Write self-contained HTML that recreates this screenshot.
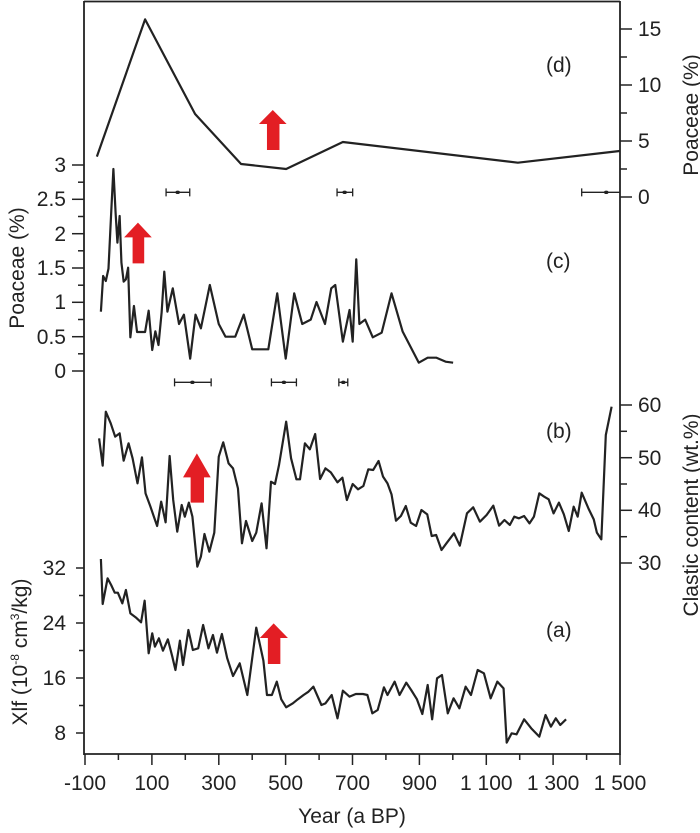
<!DOCTYPE html>
<html><head><meta charset="utf-8"><style>
body{margin:0;background:#fff}
text{font-family:"Liberation Sans",sans-serif;fill:#222}
</style></head><body>
<svg width="700" height="828" viewBox="0 0 700 828" xmlns="http://www.w3.org/2000/svg">
<rect x="0" y="0" width="700" height="828" fill="#fff"/>
<g stroke="#222" stroke-width="1.8" fill="none">
<line x1="84" y1="1.5" x2="620" y2="1.5"/>
<line x1="84" y1="1" x2="84" y2="755"/>
<line x1="620" y1="1" x2="620" y2="755"/>
<line x1="84" y1="754" x2="620" y2="754"/>
</g>
<g stroke="#222" stroke-width="1.5">
<line x1="85" y1="754" x2="85" y2="765"/><line x1="151.9" y1="754" x2="151.9" y2="765"/><line x1="218.8" y1="754" x2="218.8" y2="765"/><line x1="285.6" y1="754" x2="285.6" y2="765"/><line x1="352.5" y1="754" x2="352.5" y2="765"/><line x1="419.4" y1="754" x2="419.4" y2="765"/><line x1="486.3" y1="754" x2="486.3" y2="765"/><line x1="553.1" y1="754" x2="553.1" y2="765"/><line x1="620" y1="754" x2="620" y2="765"/>
<line x1="118.4" y1="754" x2="118.4" y2="760"/><line x1="185.3" y1="754" x2="185.3" y2="760"/><line x1="252.2" y1="754" x2="252.2" y2="760"/><line x1="319.1" y1="754" x2="319.1" y2="760"/><line x1="385.9" y1="754" x2="385.9" y2="760"/><line x1="452.8" y1="754" x2="452.8" y2="760"/><line x1="519.7" y1="754" x2="519.7" y2="760"/><line x1="586.6" y1="754" x2="586.6" y2="760"/>
<line x1="72" y1="165" x2="84" y2="165"/><line x1="72" y1="199.3" x2="84" y2="199.3"/><line x1="72" y1="233.7" x2="84" y2="233.7"/><line x1="72" y1="268" x2="84" y2="268"/><line x1="72" y1="302.3" x2="84" y2="302.3"/><line x1="72" y1="336.7" x2="84" y2="336.7"/><line x1="72" y1="371" x2="84" y2="371"/>
<line x1="78" y1="182.2" x2="84" y2="182.2"/><line x1="78" y1="216.5" x2="84" y2="216.5"/><line x1="78" y1="250.8" x2="84" y2="250.8"/><line x1="78" y1="285.2" x2="84" y2="285.2"/><line x1="78" y1="319.5" x2="84" y2="319.5"/><line x1="78" y1="353.8" x2="84" y2="353.8"/>
<line x1="76" y1="568" x2="84" y2="568"/><line x1="76" y1="623" x2="84" y2="623"/><line x1="76" y1="678" x2="84" y2="678"/><line x1="76" y1="733" x2="84" y2="733"/>
<line x1="79" y1="595.5" x2="84" y2="595.5"/><line x1="79" y1="650.5" x2="84" y2="650.5"/><line x1="79" y1="705.5" x2="84" y2="705.5"/>
<line x1="620" y1="29" x2="632" y2="29"/><line x1="620" y1="85" x2="632" y2="85"/><line x1="620" y1="141" x2="632" y2="141"/><line x1="620" y1="197" x2="632" y2="197"/>
<line x1="620" y1="57" x2="627" y2="57"/><line x1="620" y1="113" x2="627" y2="113"/><line x1="620" y1="169" x2="627" y2="169"/>
<line x1="620" y1="405" x2="632" y2="405"/><line x1="620" y1="457.7" x2="632" y2="457.7"/><line x1="620" y1="510.3" x2="632" y2="510.3"/><line x1="620" y1="563" x2="632" y2="563"/>
<line x1="620" y1="431.3" x2="627" y2="431.3"/><line x1="620" y1="484" x2="627" y2="484"/><line x1="620" y1="536.7" x2="627" y2="536.7"/>
</g>
<g font-size="21">
<g text-anchor="middle">
<text x="85" y="790">-100</text><text x="151.9" y="790">100</text><text x="218.8" y="790">300</text><text x="285.6" y="790">500</text><text x="352.5" y="790">700</text><text x="419.4" y="790">900</text><text x="486.3" y="790">1 100</text><text x="553.1" y="790">1 300</text><text x="620" y="790">1 500</text>
<text x="352" y="823">Year (a BP)</text>
</g>
<g text-anchor="end">
<text x="66" y="172">3</text><text x="66" y="206">2.5</text><text x="66" y="241">2</text><text x="66" y="275">1.5</text><text x="66" y="309">1</text><text x="66" y="344">0.5</text><text x="66" y="378">0</text>
<text x="66" y="575">32</text><text x="66" y="630">24</text><text x="66" y="685">16</text><text x="66" y="740">8</text>
</g>
<g text-anchor="start">
<text x="638" y="36">15</text><text x="638" y="92">10</text><text x="638" y="148">5</text><text x="638" y="204">0</text>
<text x="638" y="412">60</text><text x="638" y="465">50</text><text x="638" y="517">40</text><text x="638" y="570">30</text>
</g>
<text x="546" y="72">(d)</text><text x="546" y="268">(c)</text><text x="546" y="438">(b)</text><text x="546" y="637">(a)</text>
<text transform="translate(24,268) rotate(-90)" text-anchor="middle">Poaceae (%)</text>
<text transform="translate(27,652) rotate(-90)" text-anchor="middle">Xlf (10<tspan font-size="12" dy="-8">-8</tspan><tspan dy="8"> cm</tspan><tspan font-size="12" dy="-8">3</tspan><tspan dy="8">/kg)</tspan></text>
<text transform="translate(698,115) rotate(-90)" text-anchor="middle">Poaceae (%)</text>
<text transform="translate(698,515) rotate(-90)" text-anchor="middle">Clastic content (wt.%)</text>
</g>
<g transform="scale(0.44643,0.33333)" fill="none" stroke="#222" stroke-width="2.2" stroke-linejoin="round">
<polyline vector-effect="non-scaling-stroke" points="217,470 325,58 437,342 540,492 641,507 768,426 1160,488 1388,453"/>
<polyline vector-effect="non-scaling-stroke" points="226,935 231,828 237,843 243,806 249,640 254,507 259,640 263,728 268,648 272,788 277,845 282,838 287,803 292,1012 300,918 307,996 315,996 325,996 333,932 341,1050 348,994 355,1035 362,938 368,815 375,935 387,865 401,972 412,944 426,1076 438,944 450,985 470,855 490,972 505,1010 527,1010 546,944 565,1048 601,1048 621,880 640,1076 659,880 677,972 696,959 709,906 728,972 742,865 751,855 768,1025 783,930 790,1025 798,778 805,972 818,959 835,1012 855,998 877,880 902,995 938,1088 958,1073 977,1073 998,1085 1015,1088"/>
<g stroke-width="1.3">
<path vector-effect="non-scaling-stroke" d="M372,577H425M372,565V589M425,565V589M755,577H790M755,565V589M790,565V589M1303,577H1388M1303,565V589M391,1147H473M391,1135V1159M473,1135V1159M608,1147H664M608,1135V1159M664,1135V1159M759,1147H779M759,1135V1159M779,1135V1159"/>
</g>
<g fill="#222" stroke="none"><ellipse cx="398" cy="577" rx="5" ry="5"/><ellipse cx="772" cy="577" rx="5" ry="5"/><ellipse cx="1358" cy="577" rx="5" ry="5"/><ellipse cx="431" cy="1147" rx="5" ry="5"/><ellipse cx="636" cy="1147" rx="5" ry="5"/><ellipse cx="769" cy="1147" rx="5" ry="5"/></g>
<g fill="#e31e24" stroke="none">
<polygon points="611,330 642,372 626,372 626,450 598,450 598,372 580,372"/>
<polygon points="309,668 340,712 323,712 323,790 297,790 297,712 278,712"/>
</g>
</g>
<g transform="translate(0,400) scale(0.44643,0.33333)" fill="none" stroke="#222" stroke-width="2.2" stroke-linejoin="round">
<polyline vector-effect="non-scaling-stroke" points="222,115 230,197 237,35 248,70 258,110 268,100 277,182 288,130 297,175 308,250 318,172 326,280 337,320 346,355 352,378 361,305 371,367 380,168 388,300 397,395 407,315 414,350 423,308 431,350 442,500 450,470 458,402 469,455 480,398 490,170 500,127 512,190 522,205 533,265 542,430 551,363 565,423 574,398 586,310 597,445 607,245 616,252 625,195 641,65 652,175 664,238 672,238 683,130 694,148 706,102 717,237 729,205 741,217 756,247 767,233 777,300 790,252 802,268 814,258 825,208 836,210 848,183 858,230 868,250 877,283 887,362 898,348 909,318 920,368 932,378 944,330 957,343 967,408 977,405 989,450 1000,430 1017,400 1030,437 1046,340 1060,322 1075,365 1090,345 1105,317 1118,377 1130,360 1142,375 1152,350 1162,355 1174,348 1186,370 1196,350 1208,280 1219,290 1229,298 1240,340 1252,308 1263,343 1274,393 1285,320 1294,350 1303,278 1318,325 1330,358 1337,398 1347,418 1357,105 1370,20"/>
<polyline vector-effect="non-scaling-stroke" points="226,477 230,612 241,535 249,555 257,578 264,578 274,610 282,570 292,640 304,652 316,667 324,602 333,760 341,700 347,740 356,715 365,752 376,718 386,770 393,810 403,722 410,795 422,690 432,750 444,745 455,675 467,745 477,705 486,758 497,702 509,775 522,828 537,790 554,885 574,683 590,782 598,885 609,885 620,845 630,898 641,922 656,910 667,898 680,885 691,875 702,860 720,915 729,910 743,885 756,955 768,872 783,890 797,882 813,882 823,885 834,940 846,930 860,862 868,885 884,845 895,885 910,848 921,870 934,898 946,942 958,855 968,958 979,835 990,825 1003,940 1016,895 1029,925 1043,860 1055,885 1070,810 1084,820 1099,895 1114,845 1128,865 1135,1028 1146,1000 1157,1003 1174,958 1190,985 1208,1010 1222,945 1234,980 1245,955 1255,975 1268,958"/>
<g fill="#e31e24" stroke="none">
<polygon points="441,160 472,232 457,232 457,308 427,308 427,232 410,232"/>
<polygon points="613,670 645,714 628,714 628,792 600,792 600,714 582,714"/>
</g>
</g>
</svg>
</body></html>
